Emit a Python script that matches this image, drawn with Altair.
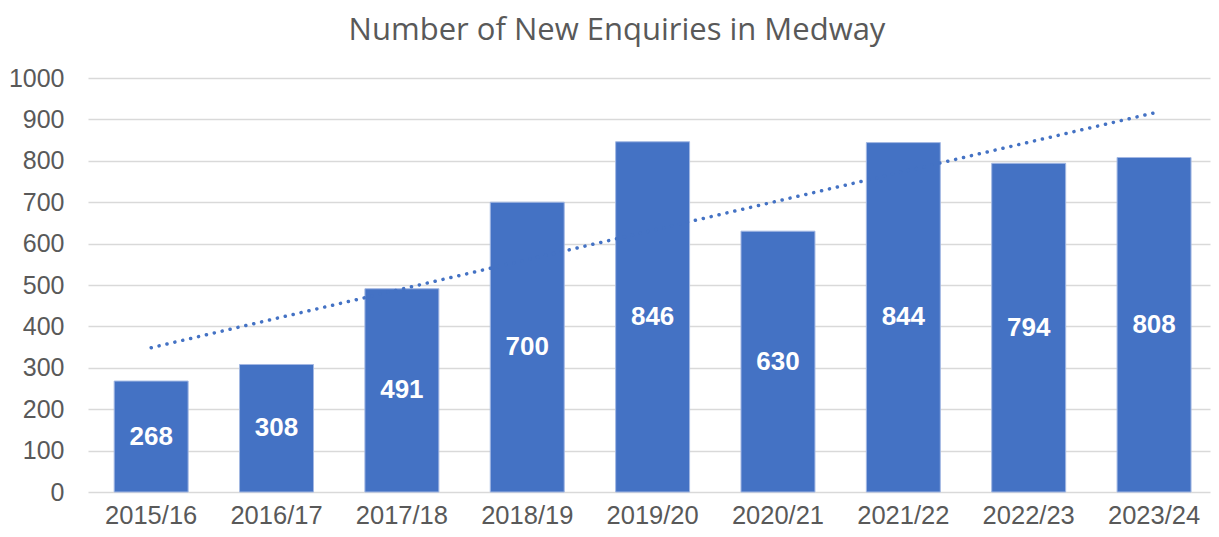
import altair as alt
import pandas as pd

years = ["2015/16", "2016/17", "2017/18", "2018/19", "2019/20",
         "2020/21", "2021/22", "2022/23", "2023/24"]
enquiries = [268, 308, 491, 700, 846, 630, 844, 794, 808]

df = pd.DataFrame({"year": years, "value": enquiries, "idx": list(range(len(years)))})

x_enc = alt.X("year:N", sort=years, title=None,
              scale=alt.Scale(paddingInner=0.41, paddingOuter=0.18, align=0.58),
              axis=alt.Axis(labelAngle=0, labelFont="Liberation Sans", labelFontSize=25.5,
                            labelColor="#595959", labelPadding=11, ticks=False, domain=False,
                            grid=False))
y_enc = alt.Y("value:Q", title=None,
              scale=alt.Scale(domain=[0, 1000], nice=False),
              axis=alt.Axis(values=list(range(0, 1001, 100)), format="d",
                            labelFont="Liberation Sans",
                            labelFontSize=25, labelColor="#595959", labelPadding=24,
                            ticks=False, domain=False, gridColor="#d9d9d9", gridWidth=1.5))

base = alt.Chart(df)

bars = base.mark_bar(color="#4472C4", stroke="#a3b8e3", strokeWidth=1).encode(x=x_enc, y=y_enc)

labels = base.mark_text(color="white", font="Liberation Sans", fontWeight="bold",
                        fontSize=26, baseline="middle").encode(
    x=alt.X("year:N", sort=years),
    y=alt.Y("mid:Q"),
    text=alt.Text("value:Q"),
).transform_calculate(mid="datum.value / 2")

year_expr = "[" + ",".join("'" + y + "'" for y in years) + "][datum.idx]"
trend = base.transform_regression("idx", "value", method="linear").transform_calculate(
    year=year_expr
).mark_line(color="#4472C4", strokeWidth=3.5, strokeDash=[0.1, 8], strokeCap="round").encode(
    x=alt.X("year:N", sort=years),
    y=alt.Y("value:Q"),
)

chart = alt.layer(bars, labels, trend).properties(
    width=1122, height=414,
    autosize=alt.AutoSizeParams(type="none"),
    padding={"left": 80, "top": 70, "right": 1, "bottom": 38},
    title=alt.TitleParams("Number of New Enquiries in Medway", font="Open Sans",
                          fontSize=31, fontWeight="normal", color="#595959",
                          anchor="middle", dx=-32, offset=19),
).configure_view(stroke=None)

chart.save("out.html", embed_options={"renderer": "svg", "actions": False})
